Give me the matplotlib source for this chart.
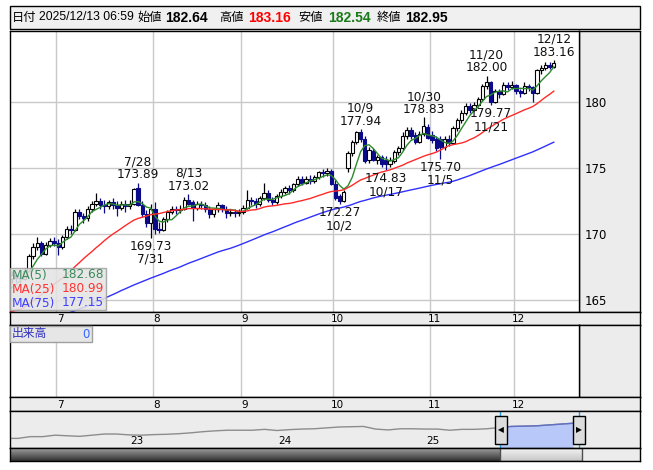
import matplotlib
matplotlib.use('Agg')
from matplotlib import pyplot as plt
from matplotlib.patches import Rectangle
import numpy as np

W, H = 653, 470

# daily candles, 2025-06-16 .. 2025-12-12 (weekdays)
opens = [
    166.6, 166.9, 166.7, 166.6, 167.2, 168.3, 169.0, 169.3, 168.5, 169.2,
    169.5, 169.3, 169.0, 169.8, 170.4, 170.3, 171.7, 171.4, 171.2, 171.9,
    172.3, 172.5, 172.2, 172.1, 172.4, 172.2, 172.0, 172.3, 172.1, 172.3,
    173.5, 172.2, 171.5, 170.8, 171.9, 170.4, 170.3, 171.1, 171.7, 171.9,
    171.8, 171.9, 172.6, 172.4, 172.0, 172.3, 172.2, 171.9, 171.5, 171.9,
    172.2, 171.9, 171.6, 171.7, 171.6, 171.7, 172.0, 172.6, 172.5, 172.3,
    172.7, 173.1, 172.6, 172.4, 172.9, 173.2, 173.5, 173.3, 173.8, 174.2,
    173.9, 174.2, 174.0, 174.3, 174.7, 174.6, 174.8, 173.8, 172.9, 172.5,
    175.0, 176.1, 177.0, 177.7, 177.2, 175.6, 176.3, 175.6, 175.8, 175.6,
    175.3, 175.5, 176.2, 176.5, 177.4, 177.9, 177.5, 177.0, 177.6, 178.1,
    177.5, 177.2, 177.2, 176.6, 177.2, 176.9, 178.0, 178.6, 179.2, 179.7,
    179.4, 179.8, 180.2, 181.2, 181.5, 180.0, 180.8, 180.6, 181.3, 181.1,
    181.3, 180.8, 180.7, 181.2, 181.1, 180.7, 182.4, 182.6, 182.8, 182.64,
]
highs = [
    167.2, 167.1, 167.0, 167.4, 168.5, 169.3, 169.8, 169.5, 169.4, 169.7,
    169.8, 169.6, 169.9, 170.6, 170.7, 171.9, 171.9, 171.6, 172.1, 172.5,
    173.1, 172.7, 172.6, 172.6, 172.7, 172.5, 172.5, 172.6, 172.6, 173.5,
    173.89, 172.5, 171.8, 172.3, 172.4, 170.9, 171.3, 171.8, 172.1, 172.1,
    172.2, 172.8, 173.02, 172.6, 172.5, 172.5, 172.4, 172.1, 172.0, 172.4,
    172.3, 172.1, 171.9, 171.9, 171.9, 172.2, 173.3, 172.8, 172.7, 172.9,
    173.9, 173.3, 172.8, 173.0, 173.4, 173.6, 173.7, 173.9, 174.4, 174.4,
    174.4, 174.5, 174.5, 174.8, 174.9, 175.0, 174.9, 174.1, 173.0, 173.3,
    176.3, 177.1, 177.8, 177.94, 177.4, 176.6, 176.5, 176.0, 176.0, 175.9,
    175.8, 176.4, 176.7, 177.7, 178.1, 178.1, 177.7, 177.8, 178.83, 178.3,
    177.8, 177.4, 177.4, 177.4, 177.5, 178.2, 178.8, 179.4, 179.9, 179.9,
    180.0, 180.4, 181.4, 182.00, 181.6, 181.0, 181.0, 181.5, 181.5, 181.6,
    181.4, 181.0, 181.5, 181.4, 181.2, 182.5, 182.8, 183.0, 183.0, 183.16,
]
lows = [
    166.3, 166.4, 166.3, 166.5, 167.1, 168.1, 168.8, 168.3, 168.4, 169.0,
    169.1, 168.4, 168.9, 169.6, 170.0, 170.2, 171.1, 170.8, 171.0, 171.7,
    172.1, 171.9, 171.6, 171.9, 171.9, 171.4, 171.8, 171.7, 171.9, 172.2,
    172.1, 171.3, 170.5, 169.73, 170.0, 170.1, 170.2, 170.9, 171.5, 171.5,
    171.6, 171.8, 172.2, 171.0, 171.8, 171.9, 171.7, 171.2, 171.3, 171.7,
    171.7, 171.2, 171.4, 171.3, 171.4, 171.5, 171.9, 172.2, 172.0, 172.1,
    172.6, 172.4, 172.2, 172.3, 172.7, 173.0, 173.0, 173.2, 173.6, 173.7,
    173.8, 173.8, 173.9, 174.2, 174.3, 174.4, 173.7, 172.6, 172.27, 172.4,
    174.7, 175.9, 176.8, 177.0, 175.4, 175.4, 175.5, 175.3, 175.1, 174.83,
    175.1, 175.4, 176.0, 176.4, 177.2, 177.2, 176.8, 176.9, 177.4, 177.2,
    176.9, 176.3, 175.70, 176.4, 176.7, 176.8, 177.8, 178.4, 179.0, 179.2,
    179.3, 179.6, 180.1, 181.0, 179.77, 179.9, 180.3, 180.5, 180.9, 181.0,
    180.6, 180.4, 180.6, 180.8, 180.0, 180.6, 182.1, 182.4, 182.5, 182.54,
]
closes = [
    166.9, 166.7, 166.6, 167.2, 168.3, 169.0, 169.3, 168.5, 169.2, 169.5,
    169.3, 169.0, 169.8, 170.4, 170.3, 171.7, 171.4, 171.2, 171.9, 172.3,
    172.5, 172.2, 172.1, 172.4, 172.2, 172.0, 172.3, 172.1, 172.3, 173.4,
    172.2, 171.5, 170.8, 171.9, 170.4, 170.3, 171.1, 171.7, 171.9, 171.8,
    171.9, 172.6, 172.3, 172.0, 172.3, 172.2, 171.9, 171.5, 171.9, 172.2,
    171.9, 171.6, 171.7, 171.6, 171.7, 172.0, 172.6, 172.5, 172.3, 172.7,
    173.1, 172.6, 172.4, 172.9, 173.2, 173.5, 173.3, 173.8, 174.2, 173.9,
    174.2, 174.0, 174.3, 174.7, 174.6, 174.8, 173.8, 172.7, 172.5, 173.2,
    176.1, 177.0, 177.7, 177.2, 175.5, 176.4, 175.6, 175.8, 175.3, 175.3,
    175.6, 176.2, 176.5, 177.4, 177.9, 177.4, 177.0, 177.6, 178.2, 177.3,
    177.1, 176.5, 176.6, 177.2, 176.9, 178.0, 178.6, 179.2, 179.7, 179.4,
    179.8, 180.2, 181.2, 181.5, 180.0, 180.8, 180.6, 181.3, 181.1, 181.3,
    180.8, 180.7, 181.2, 181.1, 180.7, 182.4, 182.6, 182.8, 182.64, 182.95,
]
# closes before the window (2025-03-03 .. 2025-06-13), only feed the averages
warmup = [
    157.0, 158.5, 160.5, 159.5, 160.0, 159.5, 161.0, 161.5, 160.6, 161.8,
    162.3, 163.4, 162.8, 161.5, 161.3, 162.4, 162.3, 162.3, 162.9, 162.0,
    161.8,
    161.2, 161.5, 161.6, 161.3, 161.3, 160.4, 162.0, 161.5, 162.7, 162.6,
    161.4, 162.0, 161.9, 161.6, 161.9, 161.3, 161.6, 162.5, 163.5, 162.8,
    162.3, 161.9,
    163.4, 163.3, 162.8, 162.1, 162.6, 162.8, 163.0, 164.4, 164.9, 164.6,
    163.0, 163.1, 162.7, 162.7, 162.9, 162.8, 162.4, 162.9, 163.4, 164.2,
    163.1, 163.3,
    164.0, 164.2, 163.6, 165.0, 165.7, 165.3, 165.6, 165.0, 166.0, 166.3,
]

month_labels = ['7', '8', '9', '10', '11', '12']
month_starts = [11, 34, 55, 77, 100, 120]
high_marks = [(30, '7/28'), (42, '8/13'), (83, '10/9'), (98, '10/30'),
              (113, '11/20'), (129, '12/12')]
low_marks = [(33, '7/31'), (78, '10/2'), (89, '10/17'), (102, '11/5'),
             (114, '11/21')]

ma_periods = [5, 25, 75]
ma_colors = ['#2d8a2d', '#ff2a2a', '#3030ff']
ma_text_colors = ['#3a8a5a', '#ff3333', '#4040ff']
ma_last = ['182.68', '180.99', '177.15']

header_date = '2025/12/13 06:59'
header_vals = ['182.64', '183.16', '182.54', '182.95']

# navigator: month-end levels, 2022-02 .. 2025-12
nav_values = [
    130, 130, 136, 136, 141, 139, 137, 141, 145, 145, 142,
    141, 143, 144, 146, 149, 153, 156, 158, 158, 158, 161, 157,
    160, 162, 163, 166, 169, 170, 171, 162, 159, 163, 163, 162,
    162, 158, 161, 161, 163, 167, 171, 172, 173, 176, 179, 182,
]
nav_x = 2022 + (np.arange(len(nav_values)) + 2) / 12.0
nav_years = ['23', '24', '25']

GRID = '#c8c8c8'
PANEL = '#ececec'
plt.rcParams['font.family'] = ['DejaVu Sans', 'Noto Sans CJK JP']


def box(x0, y0, x1, y1):
    return [x0 / W, 1 - y1 / H, (x1 - x0) / W, (y1 - y0) / H]


def frect(x0, y0, x1, y1, **kw):
    fig.add_artist(Rectangle((x0 / W, 1 - y1 / H), (x1 - x0) / W, (y1 - y0) / H,
                             transform=fig.transFigure, **kw))


def ftext(x, y, s, **kw):
    fig.text(x / W, 1 - y / H, s, **kw)


def blank(a, fc):
    a.set_facecolor(fc)
    a.set_xticks([])
    a.set_yticks([])
    for sp in a.spines.values():
        sp.set_color('black')
        sp.set_linewidth(1)


fig = plt.figure(figsize=(W / 100, H / 100), dpi=100)
fig.patch.set_facecolor('white')

n = len(closes)
x = np.arange(n)
PX = 569 / 135.5          # pixels per trading day
XL = (-0.5, 135.0)

# header bar
frect(10, 6, 640, 29, facecolor='#f0f0f0', edgecolor='black', lw=1)
hdr = dict(va='center', fontsize=8.8, family=['Liberation Sans', 'Noto Sans CJK JP'])
ftext(12, 17.5, '日付', **hdr)
ftext(39, 17.5, header_date, **hdr)
for lab, val, xl, xv, col in zip(['始値', '高値', '安値', '終値'], header_vals,
                                  [137, 219, 298, 377], [165, 248, 328, 405],
                                  ['black', '#ff0000', '#1a7a1a', 'black']):
    ftext(xl, 17.5, lab, **hdr)
    ftext(xv, 17.5, val, color=col, fontweight='bold',
          **{**hdr, 'fontsize': 10})

# right-hand grey column of the price panel
axr = fig.add_axes(box(579, 31, 640, 312))
blank(axr, PANEL)

# price panel
ax = fig.add_axes(box(10, 31, 579, 312))
ax.set_facecolor('white')
ax.set_xlim(*XL)
ax.set_ylim(164.09, 185.38)
for sp in ax.spines.values():
    sp.set_color('black')
    sp.set_linewidth(1)
for lv in [165, 170, 175, 180]:
    ax.axhline(lv, color=GRID, lw=1, zorder=0)
for m in month_starts:
    ax.axvline(m - 0.5, color=GRID, lw=1, zorder=0)
ax.set_xticks([])
ax.yaxis.tick_right()
ax.set_yticks([165, 170, 175, 180])
ax.tick_params(axis='y', length=0, pad=4, labelsize=8.5)

o = np.array(opens)
c = np.array(closes)
up = c >= o
navy = '#0a0a8a'
ax.vlines(x, lows, highs, colors=np.where(up, 'black', navy), lw=0.9, zorder=2)
ax.bar(x, np.maximum(np.abs(c - o), 0.03), bottom=np.minimum(o, c), width=0.78,
       color=np.where(up, 'white', navy), edgecolor=np.where(up, 'black', navy),
       lw=0.8, zorder=3)

full = np.array(warmup + closes)
xf = np.arange(len(full)) - len(warmup)
for p, col in zip(ma_periods, ma_colors):
    ma = np.convolve(full, np.ones(p) / p, mode='valid')
    ax.plot(xf[p - 1:], ma, color=col, lw=1, zorder=4)

lab = dict(ha='center', fontsize=8.7, linespacing=1.0, color='#111111', zorder=6)
for i, d in high_marks:
    ax.annotate(f'{d}\n{highs[i]:.2f}', (i, highs[i]), xytext=(0, 1),
                textcoords='offset points', va='bottom', **lab)
for i, d in low_marks:
    ax.annotate(f'{lows[i]:.2f}\n{d}', (i, lows[i]), xytext=(0, -1.5),
                textcoords='offset points', va='top', **lab)

# moving-average legend box
frect(10, 268, 106, 310, facecolor='#e4e4e4', alpha=0.88, edgecolor='#a0a0a0', lw=1)
for k in range(3):
    yy = 275 + k * 14
    ftext(12, yy, f'MA({ma_periods[k]})', va='center', fontsize=8.7, color=ma_text_colors[k])
    ftext(104, yy, ma_last[k], va='center', ha='right', fontsize=8.7, color=ma_text_colors[k])


def date_strip(y0, y1):
    a = fig.add_axes(box(10, y0, 640, y1))
    blank(a, PANEL)
    a.set_xlim(XL[0], XL[0] + 630 / PX)
    a.set_ylim(0, 1)
    for m, t in zip(month_starts, month_labels):
        a.text(m + 0.5, 0.45, t, ha='center', va='center', fontsize=7.5)
    return a


date_strip(312, 325)

# volume panel (empty)
axvr = fig.add_axes(box(579, 325, 640, 397))
blank(axvr, PANEL)
axv = fig.add_axes(box(10, 325, 579, 397))
blank(axv, 'white')
axv.set_xlim(*XL)
axv.set_ylim(0, 1)
for m in month_starts:
    axv.axvline(m - 0.5, color=GRID, lw=1, zorder=0)
frect(10, 326, 92, 342, facecolor='#e6e6e6', edgecolor='#a0a0a0', lw=1)
ftext(12, 334, '出来高', va='center', fontsize=8.5, color='#3030c0',
      family=['Noto Sans CJK JP'])
ftext(90, 334, '0', va='center', ha='right', fontsize=8.5, color='#3366ff')

date_strip(397, 411)

# navigator
axn = fig.add_axes(box(10, 411, 640, 448))
blank(axn, PANEL)
y_px0 = 2023 - 119 / 148.0
axn.set_xlim(y_px0, y_px0 + 630 / 148.0)
axn.set_ylim(97, 224)
axn.plot(nav_x, nav_values, color='#8c8c8c', lw=1)
sel0, sel1 = 2023 + (500 - 129) / 148.0, 2023 + (579 - 129) / 148.0
clip = Rectangle((sel0, 0), sel1 - sel0, 300, transform=axn.transData)
fb = axn.fill_between(nav_x, nav_values, 97, color='#b8c8f8', lw=0)
fb.set_clip_path(clip)
ln, = axn.plot(nav_x, nav_values, color='#6070c8', lw=1)
ln.set_clip_path(clip)
for s in (sel0, sel1):
    axn.axvline(s, color='#20a0e0', lw=1)
for k, t in enumerate(nav_years):
    axn.text(2023 + k + 8 / 148.0, 122, t, ha='center', va='center', fontsize=7.5)
for hx, arrow in ((501, '◀'), (579, '▶')):
    frect(hx - 6, 416, hx + 6, 444, facecolor='#dcdcdc', edgecolor='black', lw=1)
    ftext(hx, 430, arrow, ha='center', va='center', fontsize=5.5)

# scrollbar
axs = fig.add_axes(box(10, 448, 640, 461))
blank(axs, PANEL)
grad = np.linspace(0.62, 0.2, 20).reshape(-1, 1)
axs.imshow(grad, cmap='gray', vmin=0, vmax=1, aspect='auto',
           extent=(10, 500, 461, 448))
thumb = np.linspace(0.95, 0.78, 20).reshape(-1, 1)
axs.imshow(thumb, cmap='gray', vmin=0, vmax=1, aspect='auto',
           extent=(500, 582, 461, 448))
axs.add_patch(Rectangle((500, 448), 82, 13, fill=False, edgecolor='#505050', lw=1))
axs.set_xlim(10, 640)
axs.set_ylim(461, 448)

fig.savefig('out.png', dpi=100)
